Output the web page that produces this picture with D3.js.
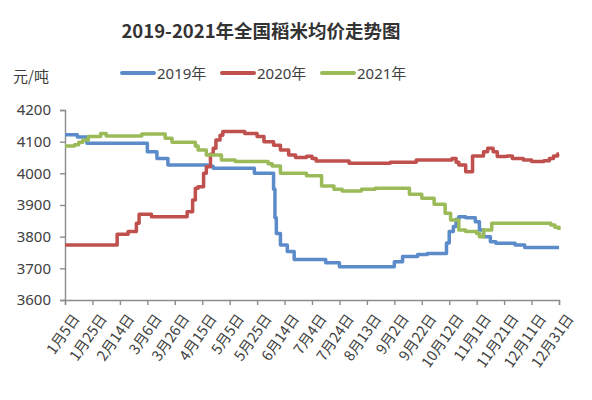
<!DOCTYPE html>
<html>
<head>
<meta charset="utf-8">
<script src="https://cdn.jsdelivr.net/npm/d3@7"></script>
<style>
  body { margin: 0; background: #fff; }
  text { font-family: "Noto Sans", "Noto Sans CJK SC", sans-serif; fill: #404040; }
</style>
</head>
<body>
<div id="chart"></div>
<script>
// tick labels, one every 20 days starting from 1月5日
let dateLabels = ['1月5日', '1月25日', '2月14日', '3月6日', '3月26日', '4月15日', '5月5日', '5月25日',
    '6月14日', '7月4日', '7月24日', '8月13日', '9月2日', '9月22日', '10月12日', '11月1日',
    '11月21日', '12月11日', '12月31日'];
let yTicks = [3600, 3700, 3800, 3900, 4000, 4100, 4200];
let seriesNames = ['2019年', '2020年', '2021年'];

// [day since 1月5日, 元/吨] — price holds until the next entry
let price2019 = [[0, 4122], [9, 4115], [16, 4095], [60, 4068], [67, 4047], [75, 4026], [104, 4022],
    [108, 4016], [138, 4000], [152, 3950], [153, 3860], [154, 3810], [157, 3774], [162, 3753],
    [167, 3728], [190, 3718], [200, 3705], [240, 3721], [246, 3737], [257, 3744], [264, 3747],
    [278, 3780], [280, 3816], [283, 3832], [285, 3855], [287, 3863], [292, 3860], [299, 3847],
    [302, 3821], [305, 3800], [310, 3784], [314, 3779], [328, 3774], [335, 3766], [360, 3766]];
let price2020 = [[0, 3774], [38, 3808], [46, 3816], [52, 3842], [54, 3871], [63, 3863], [89, 3879],
    [93, 3916], [95, 3953], [97, 3958], [101, 4000], [103, 4021], [106, 4060], [108, 4079],
    [110, 4105], [113, 4120], [115, 4132], [131, 4126], [140, 4116], [145, 4100], [152, 4089],
    [157, 4074], [163, 4058], [168, 4050], [176, 4054], [180, 4047], [183, 4039], [207, 4032],
    [237, 4035], [256, 4042], [282, 4047], [285, 4035], [287, 4026], [292, 4005], [297, 4055],
    [305, 4068], [308, 4079], [312, 4068], [315, 4053], [322, 4055], [326, 4047], [334, 4042],
    [340, 4037], [349, 4040], [353, 4047], [356, 4055], [359, 4061], [360, 4061]];
let price2021 = [[0, 4086], [7, 4090], [10, 4098], [13, 4105], [17, 4116], [26, 4126], [30, 4118],
    [56, 4124], [73, 4111], [78, 4098], [95, 4086], [97, 4074], [103, 4058], [114, 4042],
    [124, 4037], [148, 4030], [151, 4023], [157, 4000], [176, 3992], [187, 3960], [196, 3950],
    [202, 3944], [216, 3950], [226, 3953], [251, 3934], [260, 3921], [269, 3902], [277, 3874],
    [281, 3853], [287, 3821], [292, 3816], [300, 3810], [302, 3800], [305, 3821], [311, 3842],
    [354, 3837], [357, 3830], [360, 3821]];

let colors = ['#5b8bc9', '#c0504d', '#9bbb59'];
let allSeries = [price2019, price2020, price2021];

let svgWidth = 592;
let svgHeight = 400;
let axisColor = '#8c8c8c';

let svg = d3.select('#chart').append('svg')
    .attr('width', svgWidth)
    .attr('height', svgHeight);

let x = d3.scaleLinear().domain([0, 360]).range([65, 559]);
let y = d3.scaleLinear().domain([3600, 4200]).range([300, 110]);

// title
svg.append('text')
    .attr('x', 261)
    .attr('y', 38)
    .attr('text-anchor', 'middle')
    .style('font-size', '18.5px')
    .style('font-weight', 'bold')
    .style('font-family', '"Noto Sans CJK SC", sans-serif')
    .style('fill', '#333')
    .text('2019-2021年全国稻米均价走势图');

// unit
svg.append('text')
    .attr('x', 13)
    .attr('y', 82)
    .style('font-size', '15px')
    .style('font-family', '"Noto Sans CJK SC", sans-serif')
    .text('元/吨');

// legend
let legend = svg.selectAll('.legend')
    .data(seriesNames)
    .enter()
    .append('g')
    .attr('class', 'legend')
    .attr('transform', (d, i) => `translate(${122 + i * 100},73)`);

legend.append('line')
    .attr('x1', 0).attr('x2', 32)
    .attr('stroke', (d, i) => colors[i])
    .attr('stroke-width', 4)
    .attr('stroke-linecap', 'round');

legend.append('text')
    .attr('x', 35)
    .attr('y', 6)
    .style('font-size', '15px')
    .text(d => d);

// y axis
let yAxis = svg.append('g')
    .attr('transform', 'translate(65,0)')
    .call(d3.axisLeft(y).tickValues(yTicks).tickSize(5).tickPadding(9).tickFormat(d3.format('d')));
yAxis.selectAll('text').style('font-size', '15px');

// x axis
let xAxis = svg.append('g')
    .attr('transform', 'translate(0,300)')
    .call(d3.axisBottom(x)
        .tickValues(dateLabels.map((d, i) => i * 20))
        .tickSize(5)
        .tickFormat((d, i) => dateLabels[i]));
xAxis.selectAll('text')
    .style('font-size', '14.5px')
    .style('font-family', '"Noto Sans CJK SC", sans-serif')
    .attr('text-anchor', 'end')
    .attr('dy', '0.35em')
    .attr('transform', 'translate(4,11) rotate(-55)');

svg.selectAll('.domain, .tick line')
    .attr('stroke', axisColor)
    .attr('stroke-width', 1.4);

// price lines
let line = d3.line()
    .x(d => x(d[0]))
    .y(d => y(d[1]))
    .curve(d3.curveStepAfter);

svg.selectAll('.price')
    .data(allSeries)
    .enter()
    .append('path')
    .attr('class', 'price')
    .attr('fill', 'none')
    .attr('stroke', (d, i) => colors[i])
    .attr('stroke-width', 3.5)
    .attr('stroke-linejoin', 'round')
    .attr('d', line);
</script>
</body>
</html>
